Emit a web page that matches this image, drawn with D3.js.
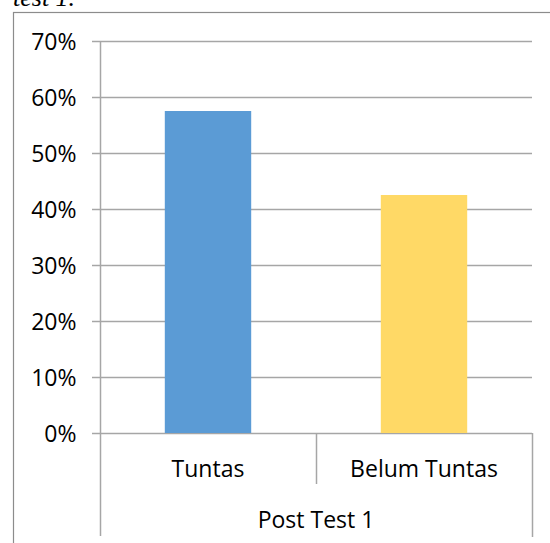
<!DOCTYPE html>
<html>
<head>
<meta charset="utf-8">
<script src="https://cdn.jsdelivr.net/npm/d3@7"></script>
<style>
  body { margin: 0; background: #fff; }
  svg text { font-family: "Open Sans", sans-serif; fill: #000; }
</style>
</head>
<body>
<script>
"use strict";

// data
let categories = ['Tuntas', 'Belum Tuntas'];
let values = [0.575, 0.425];
let barColors = ['#5b9bd5', '#ffd966'];
let groupLabel = 'Post Test 1';
let yTicks = [0, 0.1, 0.2, 0.3, 0.4, 0.5, 0.6, 0.7];

(function() {

let width = 550;
let height = 543;

let svg = d3.select('body')
    .append('svg')
    .attr('width', width)
    .attr('height', height);

// caption left over from the page above the chart
svg.append('text')
    .attr('x', 13)
    .attr('y', 6)
    .style('font-family', '"Liberation Serif", serif')
    .style('font-style', 'italic')
    .style('font-size', '26px')
    .text('test 1.');

// chart frame
svg.append('rect')
    .attr('x', 13.5)
    .attr('y', 12.5)
    .attr('width', 560)
    .attr('height', 560)
    .attr('fill', 'none')
    .attr('stroke', '#8c8c8c')
    .attr('stroke-width', 1.2);

let left = 100, right = 532, top = 41, bottom = 433;

let x = d3.scaleBand()
    .domain(categories)
    .range([left, right])
    .paddingInner(0.6)
    .paddingOuter(0.3);

let y = d3.scaleLinear()
    .domain([0, 0.7])
    .range([bottom, top]);

// gridlines
svg.append('g')
    .selectAll('line')
    .data(yTicks)
    .enter()
    .append('line')
    .attr('x1', left - 8)
    .attr('x2', right)
    .attr('y1', function(d) { return Math.round(y(d)) + 0.5; })
    .attr('y2', function(d) { return Math.round(y(d)) + 0.5; })
    .attr('stroke', '#a6a6a6')
    .attr('stroke-width', 1.5);

// bars
svg.append('g')
    .selectAll('rect')
    .data(values)
    .enter()
    .append('rect')
    .attr('x', function(d, i) { return x(categories[i]); })
    .attr('y', function(d) { return y(d); })
    .attr('width', x.bandwidth())
    .attr('height', function(d) { return y(0) - y(d); })
    .attr('fill', function(d, i) { return barColors[i]; });

// y axis
let yAxis = svg.append('g')
    .attr('transform', 'translate(' + (left + 0.5) + ',0)')
    .call(d3.axisLeft(y)
        .tickValues(yTicks)
        .tickFormat(d3.format('.0%'))
        .tickSize(0)
        .tickPadding(24));
yAxis.select('.domain').remove();
yAxis.selectAll('text')
    .style('font-size', '23px')
    .attr('dy', '0.36em');

svg.append('line')
    .attr('x1', left + 0.5)
    .attr('x2', left + 0.5)
    .attr('y1', top)
    .attr('y2', 536)
    .attr('stroke', '#a6a6a6')
    .attr('stroke-width', 1.5);

// category dividers
let step = x.step();
let dividers = [x(categories[0]) - x.paddingOuter() * step + step, right];
svg.append('g')
    .selectAll('line')
    .data(dividers)
    .enter()
    .append('line')
    .attr('x1', function(d) { return Math.round(d) + 0.5; })
    .attr('x2', function(d) { return Math.round(d) + 0.5; })
    .attr('y1', bottom)
    .attr('y2', function(d, i) { return i === 0 ? 484 : 537; })
    .attr('stroke', '#a6a6a6')
    .attr('stroke-width', 1.5);

// category labels
svg.append('g')
    .selectAll('text')
    .data(categories)
    .enter()
    .append('text')
    .attr('x', function(d) { return x(d) + x.bandwidth() / 2; })
    .attr('y', 477)
    .attr('text-anchor', 'middle')
    .style('font-size', '23px')
    .text(function(d) { return d; });

svg.append('text')
    .attr('x', (left + right) / 2)
    .attr('y', 528)
    .attr('text-anchor', 'middle')
    .style('font-size', '23px')
    .text(groupLabel);

})();
</script>
</body>
</html>
